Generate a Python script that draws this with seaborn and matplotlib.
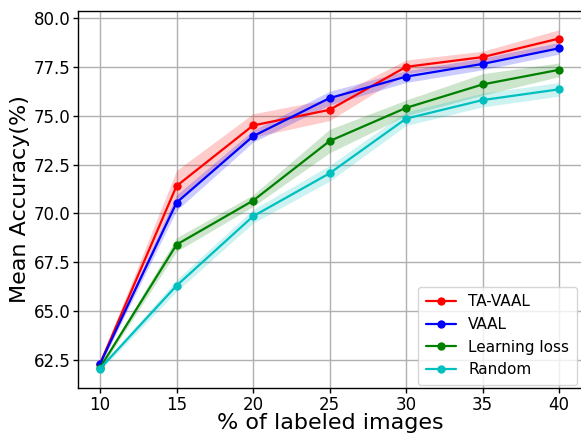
import numpy as np
import pandas as pd
import matplotlib
matplotlib.use("Agg")
import matplotlib.pyplot as plt
import seaborn as sns

x_vals = [10, 15, 20, 25, 30, 35, 40]
ta_vaal = [62.3, 71.4, 74.5, 75.3, 77.5, 78.0, 78.95]
ta_vaal_sd = [0.15, 0.8, 0.6, 0.55, 0.35, 0.3, 0.45]
vaal = [62.3, 70.55, 73.95, 75.9, 77.0, 77.65, 78.45]
vaal_sd = [0.1, 0.4, 0.3, 0.35, 0.3, 0.3, 0.3]
ll = [62.1, 68.4, 70.65, 73.7, 75.4, 76.6, 77.35]
ll_sd = [0.1, 0.35, 0.3, 0.6, 0.4, 0.55, 0.35]
rnd = [62.05, 66.3, 69.85, 72.05, 74.85, 75.8, 76.35]
rnd_sd = [0.1, 0.3, 0.35, 0.4, 0.35, 0.35, 0.35]
labels = ["TA-VAAL", "VAAL", "Learning loss", "Random"]
colors = ["r", "b", "g", "c"]

rows = []
for name, m, s in zip(labels, [ta_vaal, vaal, ll, rnd], [ta_vaal_sd, vaal_sd, ll_sd, rnd_sd]):
    for xv, mv, sv in zip(x_vals, m, s):
        rows.append(dict(method=name, x=xv, mean=mv, lo=mv - sv, hi=mv + sv))
df = pd.DataFrame(rows)

sns.set_style("whitegrid")
plt.rcParams["font.family"] = ["DejaVu Sans"]
plt.rcParams["text.color"] = "black"
plt.rcParams["axes.labelcolor"] = "black"
plt.rcParams["xtick.color"] = "black"
plt.rcParams["ytick.color"] = "black"
fig = plt.figure(figsize=(5.81, 4.34), dpi=100)
ax = fig.add_axes([78 / 581, 46 / 434, 504 / 581, 377 / 434])

for name, c in zip(labels, colors):
    d = df[df.method == name]
    ax.fill_between(d.x, d.lo, d.hi, color=c, alpha=0.2, linewidth=0)
    sns.lineplot(data=d, x="x", y="mean", color=c, marker="o", markersize=6,
                 markeredgewidth=0, linewidth=1.6, label=name, ax=ax)

ax.set_xlim(8.56, 41.5)
ax.set_ylim(61.06, 80.36)
ax.set_xticks([10, 15, 20, 25, 30, 35, 40])
ax.set_yticks([62.5, 65.0, 67.5, 70.0, 72.5, 75.0, 77.5, 80.0])
ax.set_yticklabels(["62.5", "65.0", "67.5", "70.0", "72.5", "75.0", "77.5", "80.0"])
ax.tick_params(labelsize=12, length=3.5, width=1, color="black", labelcolor="black",
               left=True, bottom=True, pad=2)
ax.grid(True, color="#b0b0b0", linewidth=1)
for sp in ax.spines.values():
    sp.set_color("black")
    sp.set_linewidth(1)
ax.set_xlabel("% of labeled images", fontsize=16)
ax.set_ylabel("Mean Accuracy(%)", fontsize=16)
ax.xaxis.set_label_coords(0.5, -(413 - 388) / 377)
ax.yaxis.set_label_coords(-(78 - 30) / 504, 0.5)
leg = ax.legend(loc="lower right", fontsize=11, frameon=True,
                bbox_to_anchor=((577 - 78) / 504, 3 / 377), borderaxespad=0,
                borderpad=0.5, labelspacing=0.5)
leg.get_frame().set_edgecolor("#cccccc")
fig.savefig("out.png", dpi=100)
